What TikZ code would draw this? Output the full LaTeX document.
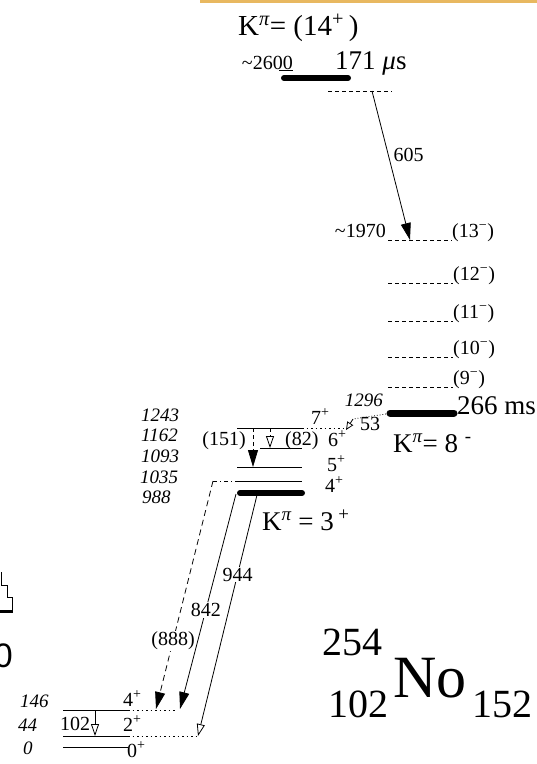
\documentclass[tikz,border=0pt]{standalone}
\usepackage{fontspec}
\setmainfont{Liberation Serif}
\setsansfont{Liberation Sans}
\usetikzlibrary{arrows.meta, positioning}
\definecolor{TopBar}{RGB}{232,184,96}

\begin{document}
\begin{tikzpicture}[x=1pt, y=-1pt,
  lev/.style={line width=0.9pt},
  dlev/.style={line width=0.8pt, dash pattern=on 4pt off 3pt},
  olev/.style={line width=0.8pt, dash pattern=on 1.5pt off 3pt},
  kbar/.style={line width=6pt, line cap=round},
  arr/.style={line width=0.8pt, -{Triangle[length=17pt,width=10pt]}},
  oarr/.style={line width=0.8pt, -{Triangle[open,length=12pt,width=8pt]}},
  sm/.style={font=\fontsize{20}{23}\selectfont, inner sep=0pt},
  en/.style={font=\fontsize{19}{22}\selectfont\itshape, inner sep=0pt},
  big/.style={font=\fontsize{27}{31}\selectfont, inner sep=0pt},
  gl/.style={sm, fill=white, inner sep=1pt}
]
\useasboundingbox (0,0) rectangle (537,764);
\draw[TopBar, line width=3pt] (200,1.5) -- (537,1.5);

% K = 14+ isomer
\node[big, font=\fontsize{29}{33}\selectfont, anchor=base west] (k14) at (238,35) {K\textsuperscript{\itshape π}= (14\textsuperscript{+}\,)};
\draw[kbar] (284,78) -- (348,78);
\draw[lev] (279,70) -- (293,70);
\node[sm, anchor=base east] (e2600) at (293,69) {\textasciitilde 2600};
\node[big, anchor=base west] (t14) at (335,69) {171 {\itshape μ}s};
\draw[dlev] (328,91) -- (392,91);

% K = 8- band
\draw[dlev] (388,240) -- (452,240);
\node[sm, anchor=base east] (e1970) at (386,237) {\textasciitilde 1970};
\node[sm, anchor=base west] (s13) at (452,237) {(13\textsuperscript{−})};
\foreach \y/\s in {283/12, 321/11, 357/10, 387/9}{
  \draw[dlev] (388,\y) -- (453,\y);
  \node[sm, anchor=base west] (s\s) at (453,\y-3) {(\s\textsuperscript{−})};
}
\draw[kbar, line width=7pt] (390,413) -- (454,413);
\node[big, anchor=base west] (t8) at (457,414) {266 ms};
\node[en, anchor=base east] (e1296) at (383,406) {1296};
\node[big, anchor=base west] (k8) at (393,452) {K\textsuperscript{\itshape π}= 8 \textsuperscript{-}};

% K = 3+ band
\draw[lev] (237,428) -- (302,428);
\draw[olev] (302,428) -- (346,428);
\draw[lev] (260,448) -- (302,448);
\draw[lev] (237,467) -- (302,467);
\draw[lev] (237,481) -- (302,481);
\draw[line width=0.8pt, dash pattern=on 4pt off 3pt on 1pt off 3pt] (213,481) -- (237,481);
\draw[kbar] (240,493) -- (302,493);
\node[sm, anchor=base west] (s7) at (311,424) {7\textsuperscript{+}};
\node[sm, anchor=base west] (s6) at (328,446) {6\textsuperscript{+}};
\node[sm, anchor=base west] (s5) at (327,471) {5\textsuperscript{+}};
\node[sm, anchor=base west] (s4) at (325,492) {4\textsuperscript{+}};
\node[en, anchor=base west] (e1243) at (141,421) {1243};
\node[en, anchor=base west] (e1162) at (141,441) {1162};
\node[en, anchor=base west] (e1093) at (141,462) {1093};
\node[en, anchor=base west] (e1035) at (140,483) {1035};
\node[en, anchor=base west] (e988) at (142,503) {988};
\node[big, anchor=base west] (k3) at (262,530) {K\textsuperscript{\itshape π} = 3\,\textsuperscript{+}};

% ground band
\draw[lev] (63,710) -- (128,710);
\draw[olev] (128,710) -- (176,710);
\draw[lev] (63,736) -- (128,736);
\draw[olev] (128,736) -- (198,736);
\draw[lev] (63,747) -- (128,747);
\node[sm, anchor=base west] (g4) at (123,706) {4\textsuperscript{+}};
\node[sm, anchor=base west] (g2) at (123,731) {2\textsuperscript{+}};
\node[sm, anchor=base west] (g0) at (127,757) {0\textsuperscript{+}};
\node[en, anchor=base west] (e146) at (20,707) {146};
\node[en, anchor=base west] (e44) at (18,731) {44};
\node[en, anchor=base west] (e0) at (23,754) {0};

% transitions
\coordinate (i14) at (372,91);
\coordinate (f13) at (410,240);
\coordinate (i8) at (386,414);
\coordinate (m53) at (353,419);
\coordinate (f7) at (346,430);
\coordinate (i151) at (253,428);
\coordinate (f151) at (253,467);
\coordinate (i82) at (270,428);
\coordinate (f82) at (270,448);
\coordinate (i888) at (213,481);
\coordinate (f888) at (156,709);
\coordinate (i842) at (236,494);
\coordinate (f842) at (180,709);
\coordinate (i944) at (257,495);
\coordinate (f944) at (198,736);
\coordinate (i102) at (95,710);
\coordinate (f102) at (95,736);

\draw[arr] (i14) -- node[sm, pos=0.43, right=5pt] (g605) {605} (f13);
\draw[line width=0.8pt, dotted] (i8) -- (m53);
\draw[oarr, -{Triangle[open,length=8pt,width=7pt]}] (m53) -- (f7);
\node[sm, anchor=base west] (g53) at (360,430) {53};
\draw[arr, dash pattern=on 4pt off 3pt] (i151) -- (f151);
\node[sm, anchor=base east] (g151) at (246,445) {(151)};
\draw[oarr, dash pattern=on 4pt off 3pt] (i82) -- (f82);
\node[sm, anchor=base west] (g82) at (285,445) {(82)};
\draw[arr, dash pattern=on 6pt off 4pt] (i888) -- node[gl, pos=0.7] (g888) {(888)} (f888);
\draw[arr] (i842) -- node[gl, pos=0.54] (g842) {842} (f842);
\draw[oarr] (i944) -- node[gl, pos=0.33] (g944) {944} (f944);
\draw[oarr] (i102) -- (f102);
\node[sm, anchor=base west] (g102) at (60,730) {102};

% nuclide
\node[font=\fontsize{40}{44}\selectfont, anchor=base west, inner sep=0pt] (a254) at (322,655) {254};
\node[font=\fontsize{40}{44}\selectfont, anchor=base west, inner sep=0pt] (z102) at (328,717) {102};
\node[font=\fontsize{60}{66}\selectfont, anchor=base west, inner sep=0pt] (no) at (393,697) {No};
\node[font=\fontsize{40}{44}\selectfont, anchor=base west, inner sep=0pt] (n152) at (472,717) {152};

% cut-off fragment at left edge
\draw[line width=1pt] (1,572) -- (1,585) -- (7,585) -- (7,597) -- (12,597) -- (12,611);
\draw[line width=3pt] (0,611) -- (13,611);
\node[font=\sffamily\fontsize{34}{38}\selectfont, anchor=base east, inner sep=0pt] (frag) at (13,667) {0};
\end{tikzpicture}
\end{document}
